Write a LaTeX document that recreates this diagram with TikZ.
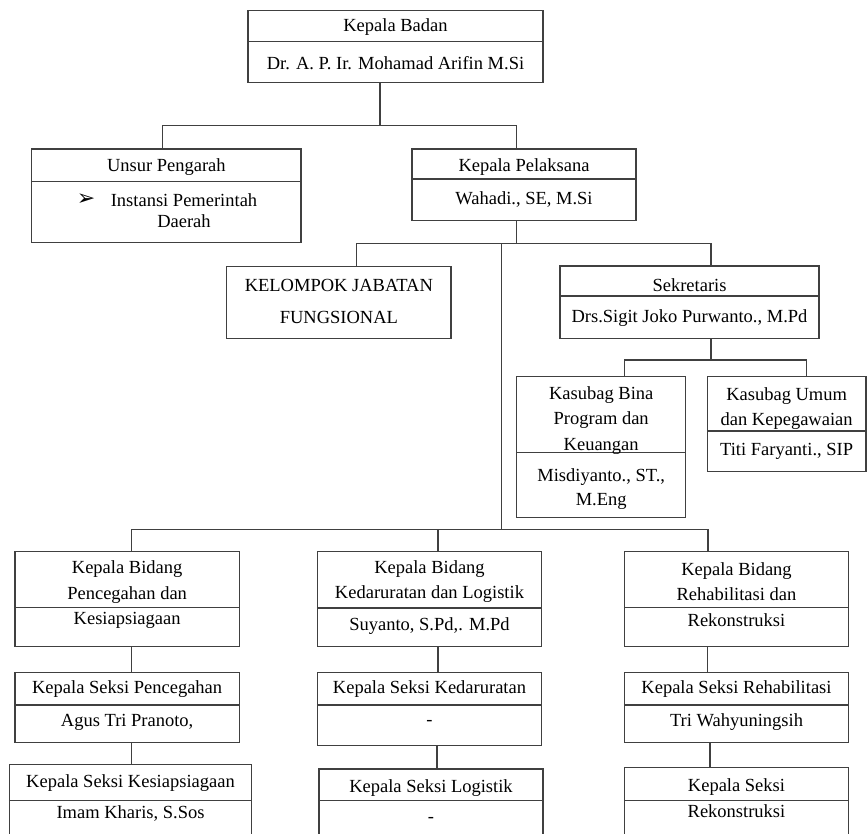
\documentclass[tikz,border=0pt]{standalone}
\usepackage{fontspec}
\setmainfont{Liberation Serif}
\newfontfamily\simbol{DejaVu Sans}
\usepackage{tikz}
\definecolor{garis}{RGB}{64,64,64}

\begin{document}
\begin{tikzpicture}[x=1pt,y=-1pt,
  kotak/.style={draw=garis,line width=1.1pt,inner sep=0},
  hubung/.style={draw=garis,line width=1.1pt},
  teks/.style={inner sep=0,align=center,font=\fontsize{18.5}{25.5}\selectfont}]
\clip (0,0) rectangle (867,834);
% Kepala Badan
\node[kotak,minimum width=295,minimum height=72](KB) at (395.5,46.7) {};
\draw[hubung] (KB.west |- 0,41.3) -- (KB.east |- 0,41.3);
\node[teks](KBa) at (KB.center |- 0,27) {Kepala Badan};
\node[teks](KBb) at (KB.center |- 0,63) {Dr. A. P. Ir. Mohamad Arifin M.Si};
% Unsur Pengarah
\node[kotak,minimum width=269.3,minimum height=93.3](UP) at (166.35,195.65) {};
\draw[hubung] (UP.west |- 0,181.3) -- (UP.east |- 0,181.3);
\node[teks](UPa) at (UP.center |- 0,167) {Unsur Pengarah};
\node[teks,font=\simbol\fontsize{22}{22}\selectfont](UPp) at (86,200) {➢};
\node[teks,font=\fontsize{18.5}{21.7}\selectfont](UPb) at (184,210.8) {Instansi Pemerintah\\Daerah};
% Kepala Pelaksana
\node[kotak,minimum width=224,minimum height=71.7](KP) at (524,184.85) {};
\draw[hubung] (KP.west |- 0,179) -- (KP.east |- 0,179);
\node[teks](KPa) at (KP.center |- 0,167.5) {Kepala Pelaksana};
\node[teks](KPb) at (KP.center |- 0,200) {Wahadi., SE, M.Si};
% Kelompok Jabatan Fungsional
\node[kotak,minimum width=224.3,minimum height=71.6](KJF) at (338.85,302.5) {};
\node[teks](KJFa) at (KJF.center |- 0,301) {KELOMPOK JABATAN\\[6.5pt]FUNGSIONAL};
% Sekretaris
\node[kotak,minimum width=259,minimum height=72.3](SEK) at (689.5,302.15) {};
\draw[hubung] (SEK.west |- 0,296) -- (SEK.east |- 0,296);
\node[teks](SEKa) at (SEK.center |- 0,285) {Sekretaris};
\node[teks](SEKb) at (SEK.center |- 0,318.3) {Drs.Sigit Joko Purwanto., M.Pd};
% Kasubag
\node[kotak,minimum width=169,minimum height=140.6](KBP) at (601.2,447) {};
\draw[hubung] (KBP.west |- 0,452.7) -- (KBP.east |- 0,452.7);
\node[teks](KBPa) at (KBP.center |- 0,420.5) {Kasubag Bina\\Program dan\\Keuangan};
\node[teks,font=\fontsize{18.5}{23.4}\selectfont](KBPb) at (KBP.center |- 0,489) {Misdiyanto., ST.,\\M.Eng};
\node[kotak,minimum width=158.7,minimum height=95](KUK) at (786.65,424.2) {};
\draw[hubung] (KUK.west |- 0,431) -- (KUK.east |- 0,431);
\node[teks](KUKa) at (KUK.center |- 0,408.7) {Kasubag Umum\\dan Kepegawaian};
\node[teks](KUKb) at (KUK.center |- 0,451.7) {Titi Faryanti., SIP};
% Kepala Bidang
\node[kotak,minimum width=224.3,minimum height=95](BPK) at (127.15,599.2) {};
\draw[hubung] (BPK.west |- 0,607.7) -- (BPK.east |- 0,607.7);
\node[teks](BPKa) at (BPK.center |- 0,594.6) {Kepala Bidang\\Pencegahan dan\\Kesiapsiagaan};
\node[kotak,minimum width=224,minimum height=95](BKL) at (429.5,599.2) {};
\draw[hubung] (BKL.west |- 0,608) -- (BKL.east |- 0,608);
\node[teks](BKLa) at (BKL.center |- 0,581.8) {Kepala Bidang\\Kedaruratan dan Logistik};
\node[teks](BKLb) at (BKL.center |- 0,626) {Suyanto, S.Pd,. M.Pd};
\node[kotak,minimum width=224,minimum height=95](BRR) at (736.5,599.2) {};
\draw[hubung] (BRR.west |- 0,607.7) -- (BRR.east |- 0,607.7);
\node[teks](BRRa) at (BRR.center |- 0,594.6) {Kepala Bidang\\Rehabilitasi dan\\Rekonstruksi};
% Kepala Seksi
\node[kotak,minimum width=224.3,minimum height=70.4](SP) at (127.15,707.5) {};
\draw[hubung] (SP.west |- 0,705) -- (SP.east |- 0,705);
\node[teks](SPa) at (SP.center |- 0,689.3) {Kepala Seksi Pencegahan};
\node[teks](SPb) at (SP.center |- 0,722.7) {Agus Tri Pranoto,};
\node[kotak,minimum width=224,minimum height=73.4](SKd) at (429.5,709) {};
\draw[hubung] (SKd.west |- 0,705) -- (SKd.east |- 0,705);
\node[teks](SKda) at (SKd.center |- 0,689.3) {Kepala Seksi Kedaruratan};
\node[teks](SKdb) at (SKd.center |- 0,723.3) {-};
\node[kotak,minimum width=224,minimum height=70.4](SRh) at (736.5,707.5) {};
\draw[hubung] (SRh.west |- 0,705) -- (SRh.east |- 0,705);
\node[teks](SRha) at (SRh.center |- 0,689.3) {Kepala Seksi Rehabilitasi};
\node[teks](SRhb) at (SRh.center |- 0,722) {Tri Wahyuningsih};
\node[kotak,minimum width=242.4,minimum height=85.7](SKs) at (130.5,807.15) {};
\draw[hubung] (SKs.west |- 0,800.7) -- (SKs.east |- 0,800.7);
\node[teks](SKsa) at (SKs.center |- 0,782.7) {Kepala Seksi Kesiapsiagaan};
\node[teks](SKsb) at (SKs.center |- 0,813.3) {Imam Kharis, S.Sos};
\node[kotak,minimum width=224,minimum height=81](SLg) at (431,809.5) {};
\draw[hubung] (SLg.west |- 0,800.7) -- (SLg.east |- 0,800.7);
\node[teks](SLga) at (SLg.center |- 0,787.7) {Kepala Seksi Logistik};
\node[teks](SLgb) at (SLg.center |- 0,820) {-};
\node[kotak,minimum width=224,minimum height=82.3](SRk) at (736.5,808.85) {};
\draw[hubung] (SRk.west |- 0,800.7) -- (SRk.east |- 0,800.7);
\node[teks](SRka) at (SRk.center |- 0,798.4) {Kepala Seksi\\Rekonstruksi};
% garis hubung
\coordinate (j1) at (380,125.3);
\draw[hubung] (KB.south -| j1) -- (j1);
\draw[hubung] (UP.north -| 162.3,0) |- (j1) -| (KP.north -| 516.7,0);
\coordinate (j2) at (516.7,243.3);
\draw[hubung] (KP.south -| j2) -- (j2);
\draw[hubung] (KJF.north -| 356.7,0) |- (j2) -| (SEK.north -| 711,0);
\coordinate (j3) at (501.7,529.3);
\draw[hubung] (j3 |- j2) -- (j3);
\coordinate (j4) at (711,360);
\draw[hubung] (SEK.south -| j4) -- (j4);
\draw[hubung] (KBP.north -| 624.3,0) |- (j4) -| (KUK.north -| 806.7,0);
\draw[hubung] (BPK.north -| 131.7,0) |- (j3) -| (BRR.north -| 708,0);
\draw[hubung] (BKL.north -| 438,0) -- (438,0 |- j3);
\foreach \a/\b/\x in {BPK/SP/131.7,BKL/SKd/438,BRR/SRh/707.3,SP/SKs/131.7,SKd/SLg/437,SRh/SRk/710}
  \draw[hubung] (\a.south -| \x,0) -- (\b.north -| \x,0);
\end{tikzpicture}
\end{document}
